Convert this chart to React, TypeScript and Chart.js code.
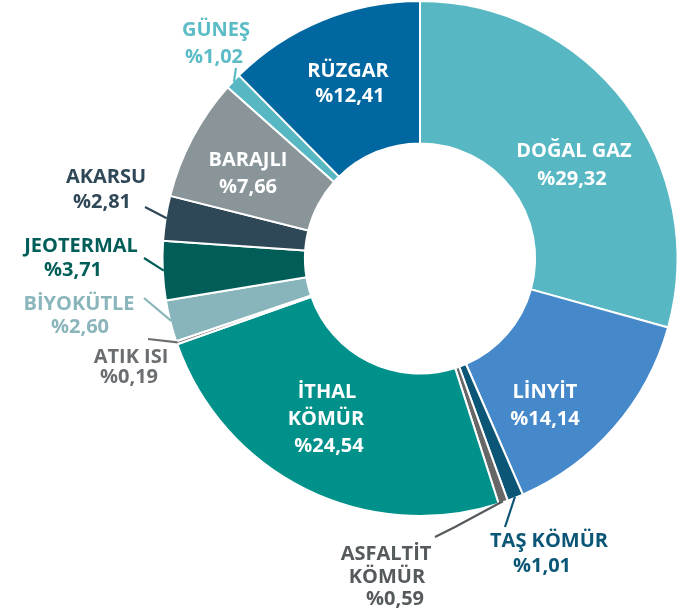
import React, { useEffect, useRef } from "react";
import { Chart, registerables } from "chart.js";

Chart.register(...registerables);

// ---- data ----
const CATEGORIES = [
  "DOĞAL GAZ",
  "LİNYİT",
  "TAŞ KÖMÜR",
  "ASFALTİT\nKÖMÜR",
  "İTHAL\nKÖMÜR",
  "ATIK ISI",
  "BİYOKÜTLE",
  "JEOTERMAL",
  "AKARSU",
  "BARAJLI",
  "GÜNEŞ",
  "RÜZGAR",
];
const SHARES = [29.32, 14.14, 1.01, 0.59, 24.54, 0.19, 2.6, 3.71, 2.81, 7.66, 1.02, 12.41];

// ---- styles ----
const SLICE_COLORS = [
  "#57b8c4", "#4689cb", "#0b5676", "#676767", "#00918a", "#727272",
  "#88b5bb", "#005d58", "#2f4858", "#899599", "#57b8c4", "#0067a1",
];
const LABEL_COLORS = [
  "#ffffff", "#ffffff", "#0b5676", "#555a5d", "#ffffff", "#6b6e70",
  "#8ab5bb", "#005d58", "#2f4858", "#ffffff", "#5cbcc6", "#ffffff",
];
const LEADER_COLORS = [
  null, null, "#0b5676", "#555a5d", null, "#6b6e70",
  "#8ab5bb", "#005d58", "#2f4858", null, "#5cbcc6", null,
];

// label layout: one [x, baseline] per text line (name lines then the % line)
const LABEL_POS: number[][][] = [
  [[574, 157], [572, 185]],
  [[545, 398], [545, 425]],
  [[549, 547], [542, 572]],
  [[386, 560], [387, 583], [395, 605]],
  [[327, 398], [326, 425], [329, 452]],
  [[131, 363], [129, 383]],
  [[79, 310], [80, 333]],
  [[81, 252], [73, 276]],
  [[106, 183], [102, 208]],
  [[248, 166], [248, 193]],
  [[216, 36], [214, 63]],
  [[348, 77], [350, 102]],
];
// leader line points on the label side (the arc end is taken from the chart)
const LEADER_PTS: (number[][] | null)[] = [
  null, null,
  [[505, 527]],
  [[435, 537], [455, 527]],
  null,
  [[148, 339]],
  [[144, 298]],
  [[144, 258]],
  [[145, 207]],
  null,
  [[236, 68]],
  null,
];

const FONT = "bold 20px 'Open Sans', 'Noto Sans', sans-serif";

const pct = (v: number) => "%" + v.toFixed(2).replace(".", ",");

const labelPlugin = {
  id: "sliceLabels",
  afterDatasetsDraw(chart: any) {
    const ctx = chart.ctx as CanvasRenderingContext2D;
    const meta = chart.getDatasetMeta(0);
    ctx.save();
    // leader lines
    meta.data.forEach((arc: any, i: number) => {
      const pts = LEADER_PTS[i];
      if (!pts) return;
      const p = arc.getProps(["x", "y", "startAngle", "endAngle", "outerRadius"], true);
      const mid = (p.startAngle + p.endAngle) / 2;
      const r = p.outerRadius - 1;
      const ex = p.x + Math.cos(mid) * r;
      const ey = p.y + Math.sin(mid) * r;
      ctx.beginPath();
      ctx.moveTo(pts[0][0], pts[0][1]);
      for (let k = 1; k < pts.length; k++) ctx.lineTo(pts[k][0], pts[k][1]);
      ctx.lineTo(ex, ey);
      ctx.strokeStyle = LEADER_COLORS[i] as string;
      ctx.lineWidth = 2.2;
      ctx.stroke();
    });
    // texts
    ctx.font = FONT;
    ctx.textAlign = "center";
    ctx.textBaseline = "alphabetic";
    CATEGORIES.forEach((name, i) => {
      const lines = name.split("\n").concat(pct(SHARES[i]));
      ctx.fillStyle = LABEL_COLORS[i];
      lines.forEach((t, k) => {
        const [x, y] = LABEL_POS[i][k];
        ctx.fillText(t, x, y);
      });
    });
    ctx.restore();
  },
};

export default function App() {
  const ref = useRef<HTMLCanvasElement | null>(null);
  useEffect(() => {
    if (!ref.current) return;
    const chart = new Chart(ref.current, {
      type: "doughnut",
      data: {
        labels: CATEGORIES,
        datasets: [
          {
            data: SHARES,
            backgroundColor: SLICE_COLORS,
            borderColor: "#ffffff",
            borderWidth: 2,
            hoverBorderWidth: 2,
            hoverOffset: 0,
            offset: 0,
          },
        ],
      },
      options: {
        responsive: false,
        animation: false,
        devicePixelRatio: 1,
        cutout: "44.7%",
        layout: { padding: { left: 161.5, top: 0, right: 7.5, bottom: 94 } },
        plugins: { legend: { display: false }, tooltip: { enabled: false } },
        events: [],
      },
      plugins: [labelPlugin],
    });
    return () => chart.destroy();
  }, []);
  return (
    <div style={{ position: "absolute", left: 0, top: 0, width: 686, height: 611, background: "#fff" }}>
      <canvas ref={ref} width={686} height={611} style={{ display: "block" }} />
    </div>
  );
}
